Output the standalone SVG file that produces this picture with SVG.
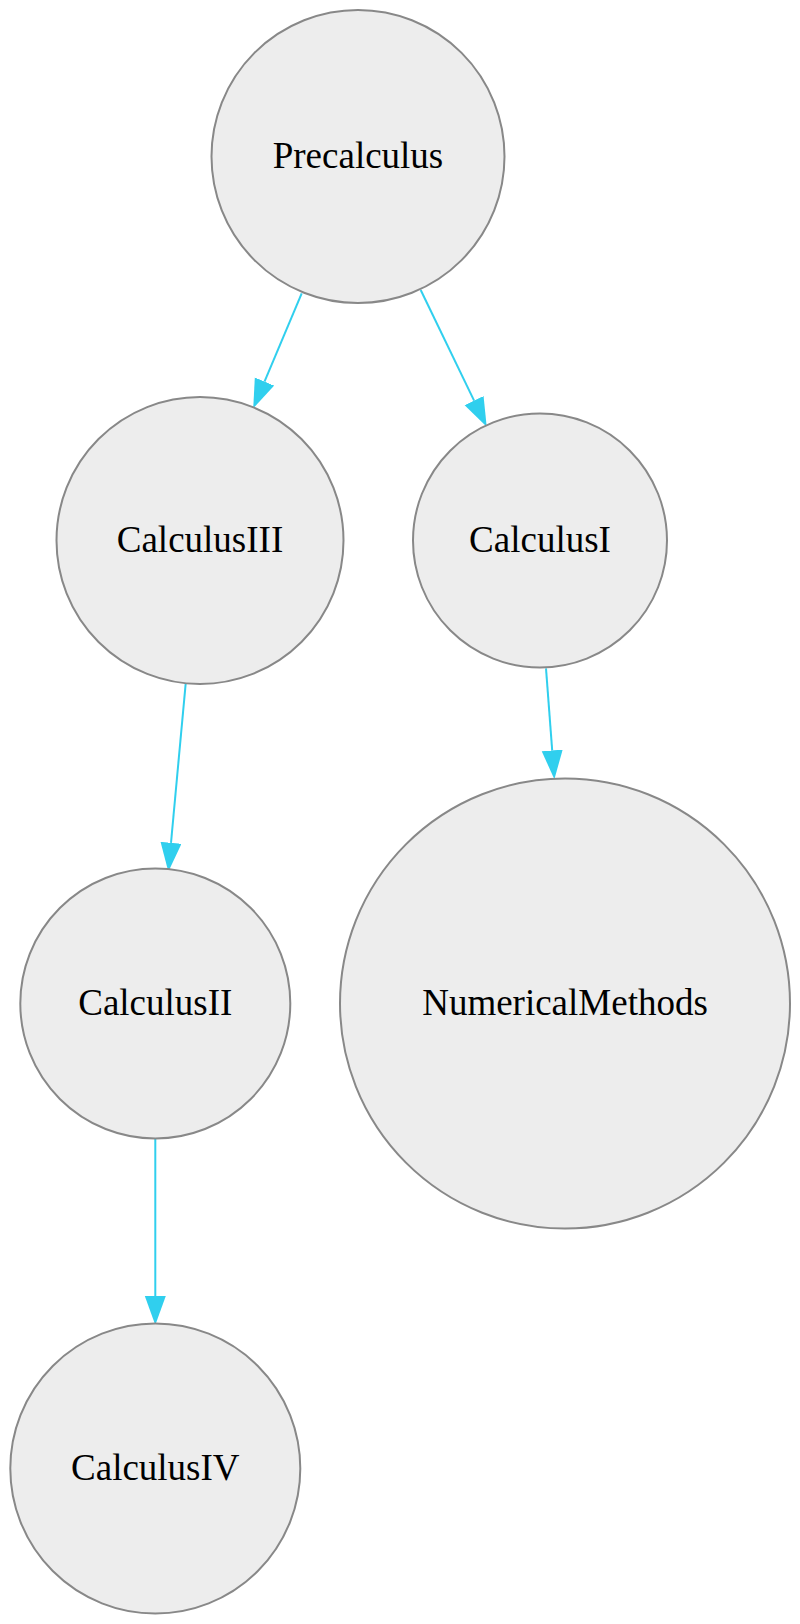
<svg xmlns="http://www.w3.org/2000/svg" width="800" height="1624" viewBox="0 0 800 1624">
  <style>
    .node circle { fill: #ededed; stroke: #888888; stroke-width: 2; }
    .node text { font-family: "Liberation Serif", "Times New Roman", serif; font-size: 37px; fill: #000000; text-anchor: middle; }
    .edge { fill: none; stroke: #30cfee; stroke-width: 2; marker-end: url(#arrow); }
  </style>
  <defs>
    <marker id="arrow" markerUnits="userSpaceOnUse" markerWidth="30" markerHeight="22" refX="0" refY="10.5" orient="auto">
      <path d="M0,0 L29,10.5 L0,21 Z" fill="#30cfee"/>
    </marker>
  </defs>
  <rect width="800" height="1624" fill="#ffffff"/>
  <g id="connectors">
    <path class="edge" d="M301.7,293.3 L264.5,381.6"/>
    <path class="edge" d="M420.7,290 L474.1,400.6"/>
    <path class="edge" d="M185.7,683.3 L171.0,842.8"/>
    <path class="edge" d="M546,668.4 L552.2,750.4"/>
    <path class="edge" d="M155.3,1138.3 L155.3,1296"/>
  </g>
  <g id="node-precalculus" class="node">
    <circle cx="358" cy="156.5" r="146.5"/>
    <text x="358" y="167.5">Precalculus</text>
  </g>
  <g id="node-calculus3" class="node">
    <circle cx="200" cy="540.5" r="143.5"/>
    <text x="200" y="551.5">CalculusIII</text>
  </g>
  <g id="node-calculus1" class="node">
    <circle cx="540" cy="540.5" r="127"/>
    <text x="540" y="551.5">CalculusI</text>
  </g>
  <g id="node-calculus2" class="node">
    <circle cx="155.3" cy="1003.5" r="135"/>
    <text x="155.3" y="1014.5">CalculusII</text>
  </g>
  <g id="node-numerical" class="node">
    <circle cx="565" cy="1003.5" r="225"/>
    <text x="565" y="1014.5">NumericalMethods</text>
  </g>
  <g id="node-calculus4" class="node">
    <circle cx="155.3" cy="1468.5" r="145"/>
    <text x="155.3" y="1479.5">CalculusIV</text>
  </g>
</svg>
